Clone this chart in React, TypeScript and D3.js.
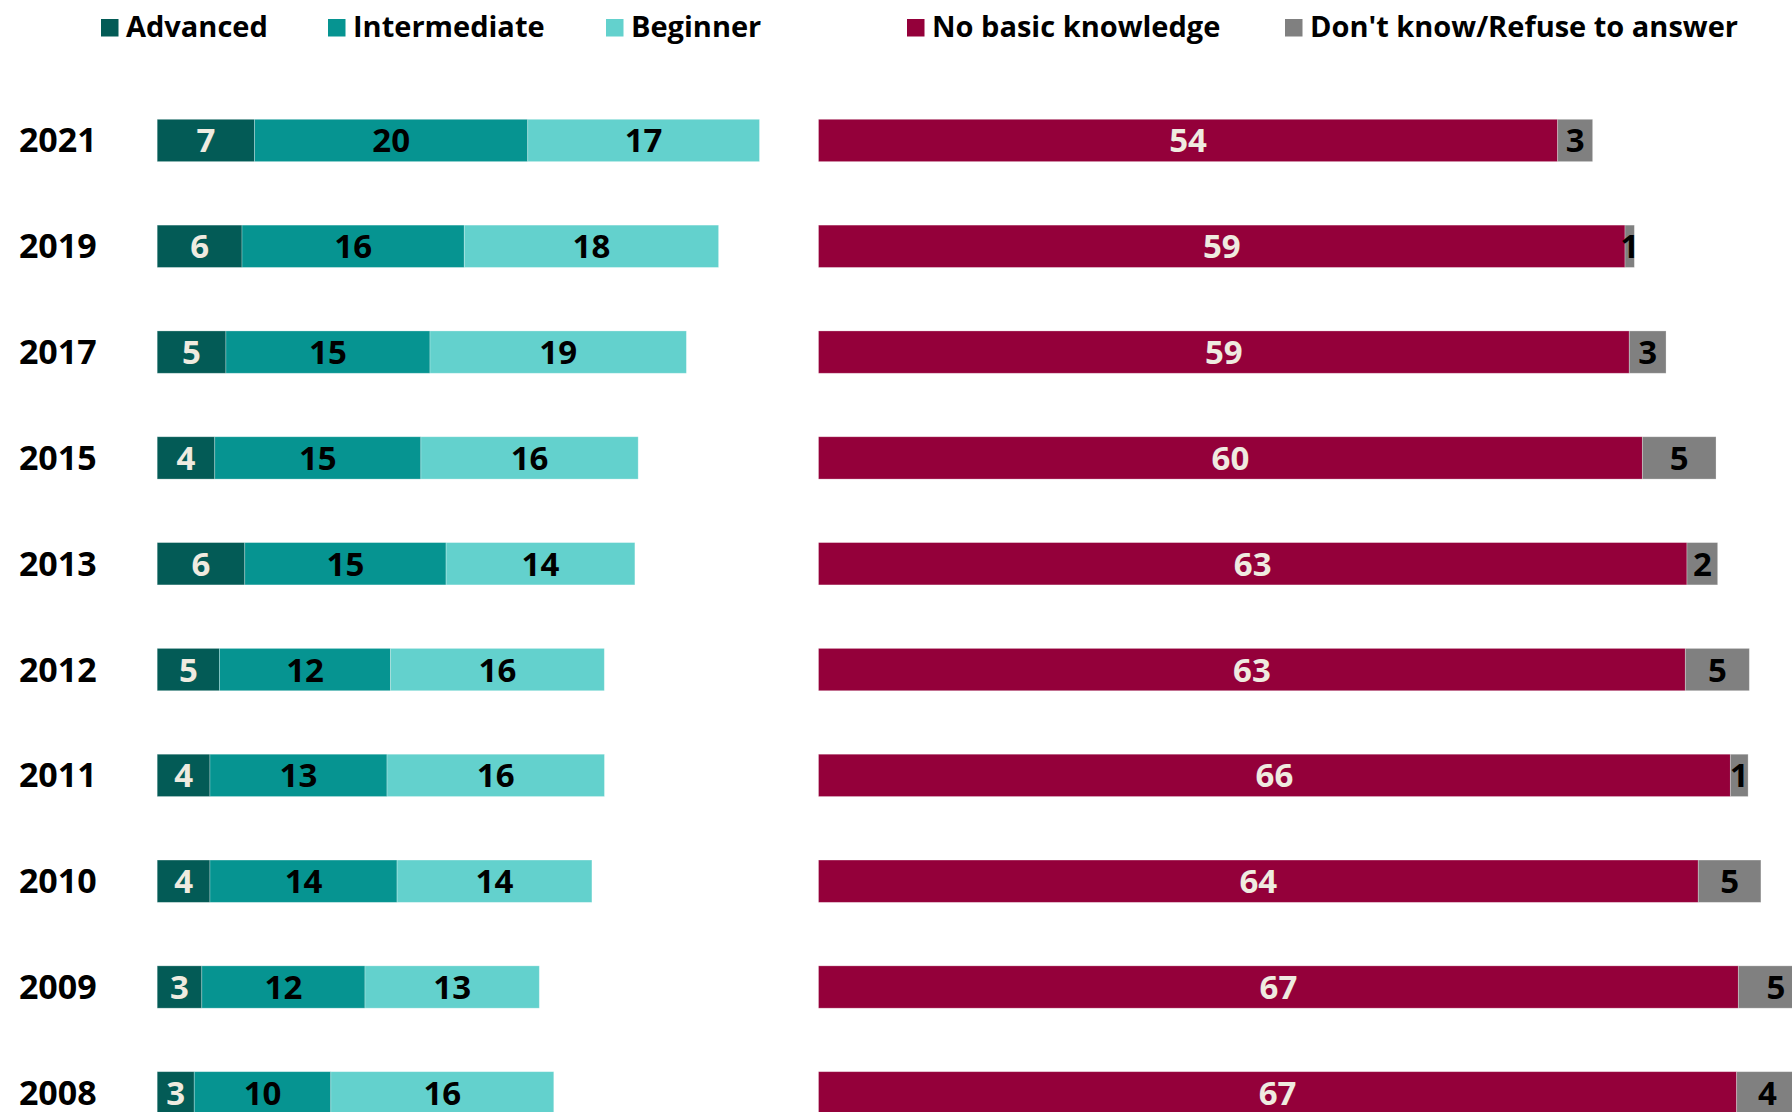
import React from 'react';
import * as d3 from 'd3';

const years = ['2021', '2019', '2017', '2015', '2013', '2012', '2011', '2010', '2009', '2008'];

// share of respondents, %
const advanced = [7.07, 6.16, 4.99, 4.18, 6.36, 4.52, 3.83, 3.83, 3.24, 2.69];
const intermediate = [19.84, 16.14, 14.82, 14.97, 14.62, 12.43, 12.86, 13.59, 11.85, 9.92];
const beginner = [16.83, 18.47, 18.62, 15.78, 13.71, 15.52, 15.79, 14.15, 12.66, 16.19];
const noBasic = [53.68, 58.57, 58.88, 59.83, 63.07, 62.95, 66.22, 63.89, 66.8, 66.68];
const dontKnow = [2.54, 0.68, 2.67, 5.35, 2.23, 4.65, 1.29, 4.55, 5.45, 4.45];

const leftKeys = ['Advanced', 'Intermediate', 'Beginner'];
const rightKeys = ['No basic knowledge', "Don't know/Refuse to answer"];

const colors: Record<string, string> = {
  Advanced: '#035b56',
  Intermediate: '#069491',
  Beginner: '#63d1cd',
  'No basic knowledge': '#94003a',
  "Don't know/Refuse to answer": '#808080',
};
const lightText = new Set(['Advanced', 'No basic knowledge']);

const W = 1792;
const H = 1112;
const FONT = '"Open Sans", "Noto Sans", sans-serif';

const legendX = [101, 328, 606, 907, 1285];

export default function App() {
  const rows = years.map((year, i) => ({
    year,
    Advanced: advanced[i],
    Intermediate: intermediate[i],
    Beginner: beginner[i],
    'No basic knowledge': noBasic[i],
    "Don't know/Refuse to answer": dontKnow[i],
  }));

  const y = d3
    .scaleBand<string>()
    .domain(years)
    .range([87.55, 87.55 + 105.82 * years.length])
    .paddingInner(0.6)
    .paddingOuter(0.3);

  const x = d3.scaleLinear().domain([0, 100]).range([0, 1377]);

  const leftX0 = 157.2;
  const rightX0 = 818.5;

  const leftStack = d3.stack<any>().keys(leftKeys)(rows);
  const rightStack = d3.stack<any>().keys(rightKeys)(rows);

  const renderStack = (series: d3.Series<any, string>[], x0: number) =>
    series.map((s) => (
      <g key={s.key}>
        {s.map((d) => {
          const yr = d.data.year as string;
          const bx = x0 + x(d[0]);
          const bw = x(d[1]) - x(d[0]);
          const cy = (y(yr) as number) + y.bandwidth() / 2;
          return (
            <g key={yr}>
              <rect
                x={bx}
                y={y(yr)}
                width={bw}
                height={y.bandwidth()}
                fill={colors[s.key]}
                stroke="#ffffff"
                strokeOpacity={0.35}
                strokeWidth={0.8}
              />
              <text
                x={bx + bw / 2}
                y={cy + 12}
                textAnchor="middle"
                fontFamily={FONT}
                fontWeight={700}
                fontSize={33}
                fill={lightText.has(s.key) ? '#efebe0' : '#000000'}
              >
                {Math.round(d[1] - d[0])}
              </text>
            </g>
          );
        })}
      </g>
    ));

  return (
    <div style={{ position: 'absolute', left: 0, top: 0, width: W, height: H, overflow: 'hidden' }}>
      <svg width={W} height={H} style={{ display: 'block', background: '#ffffff' }}>
        {/* Legend */}
        {[...leftKeys, ...rightKeys].map((k, i) => (
          <g key={k} transform={`translate(${legendX[i]},0)`}>
            <rect x={0} y={19} width={17.5} height={17.5} fill={colors[k]} />
            <text x={25} y={36.5} fontFamily={FONT} fontWeight={700} fontSize={29} fill="#000000">
              {k}
            </text>
          </g>
        ))}

        {/* Year labels */}
        {years.map((yr) => (
          <text
            key={yr}
            x={96.7}
            y={(y(yr) as number) + y.bandwidth() / 2 + 12}
            textAnchor="end"
            fontFamily={FONT}
            fontWeight={700}
            fontSize={34}
            fill="#000000"
          >
            {yr}
          </text>
        ))}

        {renderStack(leftStack, leftX0)}
        {renderStack(rightStack, rightX0)}
      </svg>
    </div>
  );
}
